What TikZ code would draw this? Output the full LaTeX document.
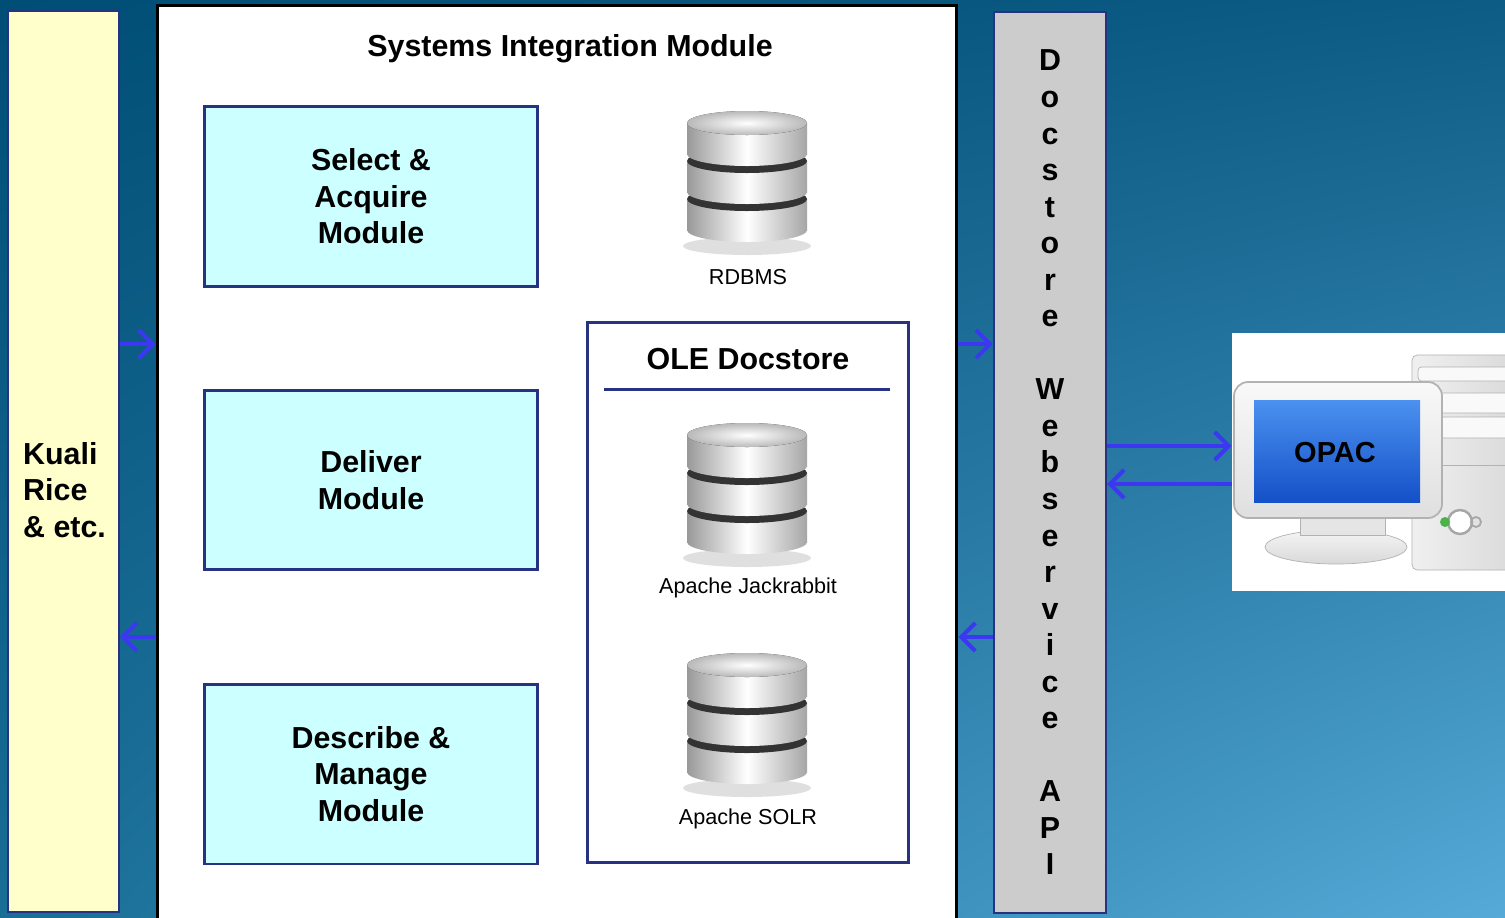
\documentclass[tikz,border=0pt]{standalone}
\usepackage{fontspec}
\setmainfont{Liberation Sans}
\usetikzlibrary{arrows.meta, positioning, shadings}

\definecolor{bgdark}{RGB}{0,78,118}
\definecolor{bgmid}{RGB}{25,110,150}
\definecolor{bglight}{RGB}{85,170,215}
\definecolor{navy}{RGB}{40,50,130}
\definecolor{paleyellow}{RGB}{255,255,204}
\definecolor{palecyan}{RGB}{204,255,255}
\definecolor{wsgray}{RGB}{204,204,204}
\definecolor{flowblue}{RGB}{60,55,240}
\definecolor{screenblue}{RGB}{20,80,200}
\definecolor{screenlight}{RGB}{75,145,240}

\tikzset{
  db/.pic={
    % shadow
    \fill[gray!25] (0,66) ellipse (64 and 9);
    % three discs, bottom first
    \foreach \t in {19,-19,-57}{
      \shade[left color=gray!80, right color=gray!70, middle color=white] (0,\t+31) ellipse (60 and 12);
      \shade[left color=gray!80, right color=gray!70, middle color=white] (-60,\t) rectangle (60,\t+31);
      \fill[gray!40!black] (0,\t) ellipse (60 and 12);
    }
    \shade[inner color=white, outer color=gray!55] (0,-57) ellipse (60 and 12);
  }
}

\begin{document}
\begin{tikzpicture}[x=0.02cm, y=-0.02cm,
    bigtext/.style={font=\fontsize{17.3}{20.8}\selectfont\bfseries},
    smalltext/.style={font=\fontsize{12.3}{14.5}\selectfont},
    module/.style={draw=navy, line width=1.7pt, fill=palecyan, minimum width=6.68cm, minimum height=3.6cm, align=center, bigtext},
    flow/.style={draw=flowblue, line width=2.3pt, -{Straight Barb[length=8pt, width=16pt]}}
  ]
  \clip (0,0) rectangle (1505,917);
  % Background
  \shade[upper left=bgdark, upper right=bgdark!85!bglight, lower left=bgmid, lower right=bglight] (0,0) rectangle (1505,917);

  % Kuali column
  \node[draw=navy, line width=1pt, fill=paleyellow, minimum width=2.22cm, minimum height=18.02cm] (kuali) at (63.5,461.5) {};
  \node[bigtext, align=left, anchor=west] (kualitext) at (17,490) {Kuali\\Rice\\\& etc.};

  % Systems Integration Module
  \node[draw=black, line width=1.7pt, fill=white, minimum width=16cm, minimum height=18.5cm] (sim) at (557,467.5) {};
  \node[bigtext] (simtitle) at (570,49) {Systems Integration Module};

  \node[module] (acquire) at (371,196.5) {Select \&\\Acquire\\Module};
  \node[module] (deliver) at (371,480) {Deliver\\Module};
  \node[module] (describe) at (371,774) {Describe \&\\Manage\\Module};

  % RDBMS
  \pic at (747,180) {db};
  \node[smalltext] (rdbms) at (748,277) {RDBMS};

  % OLE Docstore
  \node[draw=navy, line width=1.7pt, minimum width=6.44cm, minimum height=10.82cm] (docstore) at (748,592.5) {};
  \node[bigtext] (doctitle) at (748,359) {OLE Docstore};
  \draw[navy, line width=1.7pt] (604,389) -- (890,389);
  \pic at (747,492) {db};
  \node[smalltext] (jackrabbit) at (748,588) {Apache Jackrabbit};
  \pic at (747,722) {db};
  \node[smalltext] (solr) at (748,819) {Apache SOLR};

  % Docstore Webservice API
  \node[draw=navy, line width=1.2pt, fill=wsgray, minimum width=2.24cm, minimum height=18.02cm, align=center, bigtext] (ws) at (1050,462.5)
    {D\\o\\c\\s\\t\\o\\r\\e\\[20.8pt]W\\e\\b\\s\\e\\r\\v\\i\\c\\e\\[20.8pt]A\\P\\I};

  % OPAC
  \node[fill=white, minimum width=5.56cm, minimum height=5.16cm] (opac) at (1371,462) {};
  \shade[left color=gray!12, right color=gray!30, draw=gray!60, rounded corners=3pt] (1412,355) rectangle (1520,570);
  \foreach \a/\b in {367/381, 393/413, 417/438}
    \draw[gray!60, fill=gray!5, rounded corners=2pt] (1418,\a) rectangle (1520,\b);
  \draw[gray!60] (1418,465) -- (1520,465);
  \draw[gray!70, line width=1.4pt, fill=white] (1460,522) circle (12);
  \draw[gray!70, line width=1pt] (1476,522) circle (5);
  \fill[green!40!gray] (1445,522) circle (5);
  \shade[top color=gray!8, bottom color=gray!30, draw=gray!60] (1336,547) ellipse (71 and 17);
  \draw[gray!60, fill=gray!20] (1300,514) rectangle (1385,535);
  \shade[top color=gray!5, bottom color=gray!25, draw=gray!60, line width=1pt, rounded corners=8pt] (1234,382) rectangle (1442,518);
  \shade[top color=screenlight, bottom color=screenblue] (1254,400) rectangle (1420,502);
  \node[font=\fontsize{16.5}{19}\selectfont\bfseries] (screen) at (1335,453) {OPAC};

  % Connectors
  \coordinate (upper) at (0,344);
  \coordinate (lower) at (0,637);
  \coordinate (query) at (0,446);
  \coordinate (reply) at (0,484);
  \draw[flow] (kuali.east |- upper) -- (sim.west |- upper);
  \draw[flow] (sim.west |- lower) -- (kuali.east |- lower);
  \draw[flow] (sim.east |- upper) -- (ws.west |- upper);
  \draw[flow] (ws.west |- lower) -- (sim.east |- lower);
  \draw[flow] (ws.east |- query) -- (opac.west |- query);
  \draw[flow] (opac.west |- reply) -- (ws.east |- reply);
\end{tikzpicture}
\end{document}
